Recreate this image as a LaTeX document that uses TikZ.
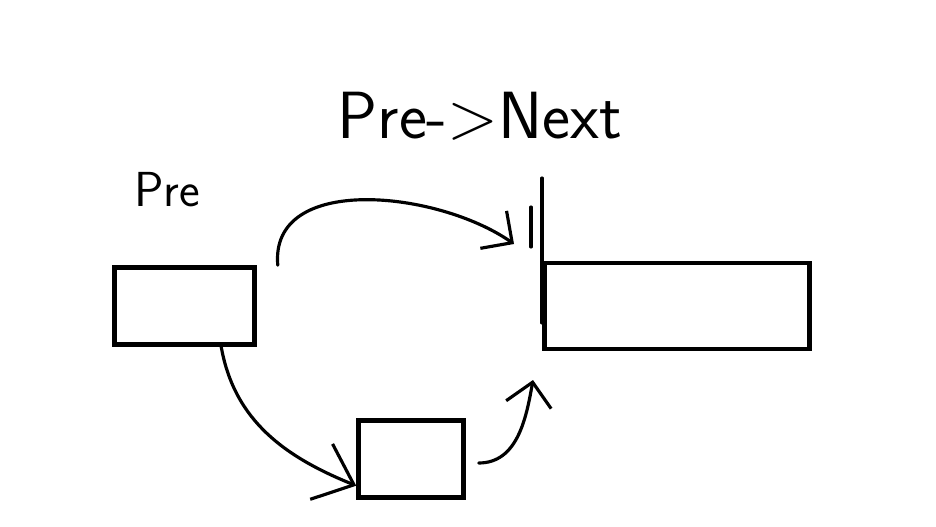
\documentclass[tikz,border=0pt]{standalone}
\usepackage{amsmath}
\usepackage{tikz}
\usetikzlibrary{arrows.meta,positioning}

\begin{document}
\begin{tikzpicture}[->,>={Straight Barb[length=13pt,width=26pt]},x=0.02cm,y=-0.02cm,line width=1.8pt,line cap=round,node distance=9.85cm]

        \tikzstyle{box}=[draw=black,line width=2.6pt,minimum height=1.54cm,inner sep=0pt]
        \tikzstyle{hand}=[font=\sffamily\fontsize{38}{40}\selectfont]

        \useasboundingbox (0,0) rectangle (936,527);

        \node[box, minimum width=2.8cm]                         (pre)  at (184.5,306) {};
        \node[box, minimum width=5.3cm, minimum height=1.72cm]  (next) [right of = pre] {};
        \node[box, minimum width=2.1cm]                         (new)  at (411,459)   {};

        \node[hand, font=\sffamily\fontsize{28}{30}\selectfont] (prelbl) at (167,190) {Pre};
        \node[hand]                                             (nxtlbl) at (480,116) {Pre->Next};

        \coordinate (mark) at (542,178);
        \coordinate (tip1) at (514,244);
        \coordinate (tip3) at (533,380);

        \draw[-] (mark) -- ++(0,145);
        \draw[-] (531,207) -- ++(0,40);

        \draw ([xshift=0.42cm]pre.north east) to[out=95,in=145] (tip1);
        \draw[>={Straight Barb[length=20pt,width=34pt]}] (pre.-48) to[out=-80,in=158] (new.206);
        \draw ([xshift=0.26cm,yshift=-0.08cm]new.east) to[out=0,in=-100] (tip3);

\end{tikzpicture}
\end{document}
